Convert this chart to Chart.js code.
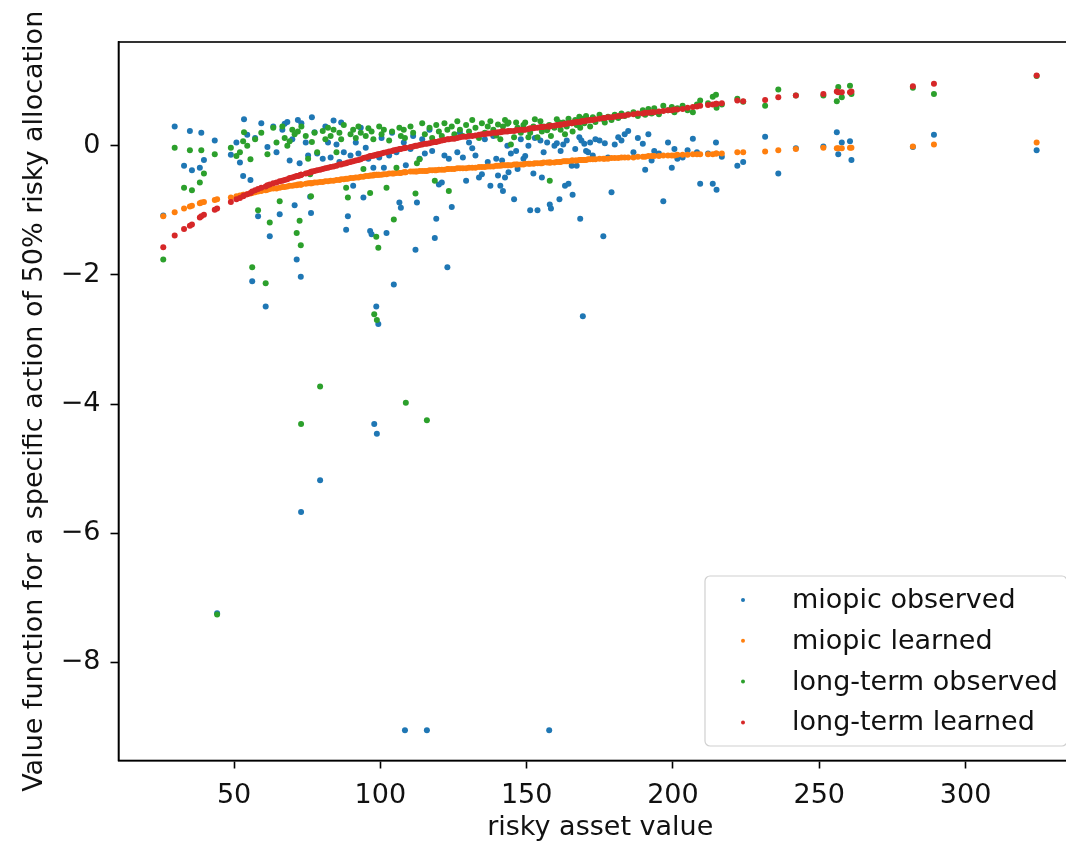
<!DOCTYPE html>
<html><head><meta charset="utf-8">
<script src="https://cdn.jsdelivr.net/npm/chart.js@4.4.1/dist/chart.umd.min.js"></script>
<style>
html,body{margin:0;padding:0;background:#fff;overflow:hidden;}
#wrap{width:1066px;height:844px;overflow:hidden;position:relative;background:#fff;}
canvas{display:block;}
</style></head><body>
<div id="wrap"><canvas id="c" width="1088" height="844"></canvas></div>
<script>
// ---- data ----
const assetValue = [
  25.8, 29.7, 32.9, 34.9, 35.6, 38.3, 38.8, 39.7, 43.4, 44.2, 48.9, 50.8,
  52.0, 53.1, 53.4, 54.5, 55.6, 56.2, 57.2, 58.2, 59.3, 60.8,
  61.4, 62.2, 63.4, 64.5, 65.6, 66.5, 67.3, 68.2, 69.0, 69.9,
  70.7, 71.4, 71.8, 72.4, 72.8, 73.0, 72.9, 74.5, 75.3, 76.0,
  76.3, 76.6, 77.5, 78.4, 79.4, 80.3, 81.2, 82.1, 83.0, 84.0,
  85.0, 86.0, 86.6, 87.5, 88.3, 88.9, 89.8, 90.7, 91.6, 92.5,
  93.3, 94.2, 95.0, 95.9, 96.5, 97.0, 97.6, 97.9, 98.6, 98.8,
  99.3, 99.6, 100.4, 101.2, 102.1, 103.0, 104.0, 104.6, 105.5, 106.5,
  107.0, 108.0, 108.7, 108.4, 110.3, 111.2, 112.0, 112.5, 113.4, 114.3,
  115.2, 115.9, 116.8, 117.7, 118.6, 119.1, 120.0, 121.0, 121.9, 122.9,
  123.4, 124.4, 125.3, 126.3, 127.2, 128.2, 129.3, 130.3, 131.4, 132.5,
  133.7, 134.7, 135.7, 136.7, 137.6, 138.6, 139.6, 140.2, 141.0, 141.6,
  141.9, 142.6, 143.4, 143.8, 144.6, 145.7, 146.4, 146.9, 148.0, 148.9,
  149.5, 150.6, 151.2, 152.3, 152.8, 153.7, 154.7, 155.2, 155.8, 157.0,
  157.7, 157.9, 158.3, 159.5, 160.3, 161.2, 161.6, 162.5, 163.1, 163.7,
  164.3, 165.4, 165.7, 166.6, 167.1, 168.0, 168.3, 168.7, 169.2, 169.7,
  170.3, 171.0, 171.7, 172.6, 173.5, 174.9, 176.2, 176.7, 177.8, 179.0,
  180.1, 181.3, 182.4, 183.5, 184.7,
  186.5, 188.0, 189.7, 190.5, 191.6, 192.7, 193.6, 195.2, 196.7, 198.3,
  199.6, 200.5, 201.5, 203.3, 205.0, 206.8, 208.2, 209.3, 212.0, 213.6,
  214.7, 214.9, 216.7, 222.0, 224.0, 231.5, 236.0, 242.0, 251.4, 256.0,
  256.5, 257.7, 260.5, 261.0, 282.0, 289.2, 324.3
];

const miopicObserved = [
  -1.08, 0.30, -0.31, 0.23, -0.38, -0.34, 0.20, -0.22, 0.08, -7.24, -0.14, 0.05,
  -0.26, -0.47, 0.41, 0.17, -0.53, -2.10, 0.12, -1.09, 0.35, -2.49,
  -0.02, -1.40, 0.30, -0.10, -1.06, 0.25, 0.34, 0.37, -0.23, 0.10,
  -0.92, -1.76, 0.40, -0.27, -2.03, 0.35, -5.67, 0.05, -0.15, -0.79,
  -1.04, 0.44, 0.21, -0.12, -5.18, -0.20, 0.30, 0.05, -0.18, 0.39,
  0.02, -0.25, 0.36, -0.10, -1.30, -1.09, -0.15, -0.62, 0.05, -0.12,
  0.28, -0.80, -0.03, -0.20, -1.32, -1.37, -0.34, -4.31, -2.49, -4.46,
  -2.76, -0.18, 0.12, -0.34, -1.35, -0.15, 0.20, -2.15, -0.10, -0.88,
  -0.96, 0.05, -0.30, -9.05, -0.05, 0.15, -1.61, -0.88, -0.20, 0.10,
  -0.12, -9.05, 0.25, -0.08, -1.43, -1.13, -0.60, -0.57, -0.15, -1.88,
  -0.20, -0.95, 0.12, -0.10, 0.20, -0.18, -0.54, 0.05, -0.04, -0.15,
  -0.49, -0.44, 0.10, -0.25, -0.62, 0.15, -0.20, -0.46, -0.62, -0.23,
  -0.70, -0.49, 0.00, -0.41, -0.12, -0.83, -0.08, -0.36, 0.10, -0.20,
  -0.16, 0.00, -1.00, -0.43, 0.12, -1.00, 0.08, -0.49, -0.10, 0.05,
  -9.05, -0.91, -0.97, 0.00, 0.04, -0.83, -0.08, 0.02, -0.62, 0.08,
  -0.59, -0.31, -0.76, -0.05, -0.31, 0.13, -1.13, 0.08, -2.64, 0.03,
  -0.08, -0.10, 0.05, -0.15, 0.10, 0.08, -1.40, 0.04, -0.18, -0.72,
  0.02, 0.13, 0.08, 0.18, 0.23,
  -0.10, 0.12, 0.03, -0.37, 0.18, -0.23, -0.08, -0.12, -0.86, 0.05,
  -0.34, -0.05, -0.20, -0.18, -0.07, 0.11, -0.10, -0.59, -0.12, -0.59,
  0.05, -0.68, -0.17, -0.31, -0.25, 0.14, -0.43, -0.04, -0.01, 0.21,
  -0.13, 0.05, 0.07, -0.22, -0.02, 0.17, -0.07
];

const miopicLearned = [
  -1.09, -1.03, -0.97, -0.94, -0.93, -0.89, -0.88, -0.87, -0.84, -0.83, -0.80, -0.78,
  -0.77, -0.76, -0.76, -0.75, -0.74, -0.73, -0.72, -0.71, -0.70, -0.69,
  -0.68, -0.67, -0.66, -0.66, -0.65, -0.64, -0.64, -0.63, -0.62, -0.62,
  -0.61, -0.61, -0.60, -0.60, -0.60, -0.60, -0.60, -0.59, -0.58, -0.58,
  -0.58, -0.58, -0.57, -0.57, -0.56, -0.56, -0.55, -0.55, -0.54, -0.54,
  -0.53, -0.53, -0.52, -0.52, -0.51, -0.51, -0.50, -0.50, -0.49, -0.49,
  -0.48, -0.48, -0.47, -0.47, -0.46, -0.46, -0.46, -0.45, -0.45, -0.45,
  -0.45, -0.45, -0.45, -0.44, -0.44, -0.43, -0.43, -0.43, -0.42, -0.42,
  -0.42, -0.41, -0.41, -0.41, -0.40, -0.40, -0.40, -0.40, -0.39, -0.39,
  -0.39, -0.39, -0.38, -0.38, -0.38, -0.38, -0.37, -0.37, -0.37, -0.36,
  -0.36, -0.36, -0.36, -0.35, -0.35, -0.35, -0.35, -0.34, -0.34, -0.34,
  -0.33, -0.33, -0.33, -0.32, -0.32, -0.32, -0.31, -0.31, -0.31, -0.30,
  -0.30, -0.30, -0.30, -0.30, -0.30, -0.29, -0.29, -0.29, -0.29, -0.29,
  -0.28, -0.28, -0.28, -0.28, -0.27, -0.27, -0.27, -0.27, -0.26, -0.26,
  -0.26, -0.26, -0.26, -0.26, -0.25, -0.25, -0.25, -0.24, -0.24, -0.24,
  -0.24, -0.23, -0.23, -0.23, -0.23, -0.22, -0.22, -0.22, -0.22, -0.22,
  -0.22, -0.21, -0.21, -0.21, -0.21, -0.20, -0.20, -0.20, -0.20, -0.19,
  -0.19, -0.19, -0.18, -0.18, -0.18,
  -0.18, -0.17, -0.17, -0.17, -0.16, -0.16, -0.16, -0.16, -0.15, -0.15,
  -0.15, -0.15, -0.14, -0.14, -0.14, -0.13, -0.13, -0.13, -0.13, -0.13,
  -0.12, -0.12, -0.12, -0.10, -0.10, -0.09, -0.07, -0.05, -0.03, -0.04,
  -0.04, -0.04, -0.03, -0.03, -0.01, 0.02, 0.05
];

const longTermObserved = [
  -1.76, -0.03, -0.65, -0.07, -0.69, -0.57, -0.07, -0.43, -0.13, -7.26, -0.03, -0.16,
  -0.10, 0.07, 0.21, 0.00, -0.21, -1.88, 0.10, -1.00, 0.20, -2.13,
  -0.13, -1.19, 0.28, 0.05, -0.86, 0.30, 0.12, 0.00, 0.07, 0.25,
  0.18, -1.35, 0.22, -1.16, -1.54, 0.30, -4.31, 0.15, -0.20, -0.44,
  -0.78, 0.06, 0.20, -0.10, -3.73, 0.23, 0.10, 0.28, 0.15, 0.25,
  -0.10, 0.20, 0.10, 0.32, -0.65, -0.80, 0.18, 0.25, 0.12, 0.30,
  0.20, -0.36, 0.15, 0.27, -0.73, 0.22, 0.10, -2.61, -1.41, -2.70,
  -1.58, 0.30, 0.18, 0.25, -0.65, 0.08, 0.22, -1.14, -0.34, 0.28,
  0.15, 0.25, -3.98, 0.12, 0.30, 0.20, -0.74, -0.27, -0.21, 0.35,
  0.18, -4.25, 0.28, 0.12, -0.54, 0.32, 0.22, 0.15, 0.35, 0.25,
  -0.70, 0.30, 0.18, 0.38, 0.25, 0.15, 0.32, 0.22, 0.40, 0.28,
  0.12, 0.35, 0.20, 0.30, 0.38, 0.25, 0.16, 0.33, 0.10, 0.22,
  0.30, 0.40, 0.34, 0.36, 0.02, 0.13, 0.36, 0.28, 0.20, 0.32,
  0.36, 0.13, 0.20, 0.30, 0.41, 0.13, 0.38, 0.22, 0.30, 0.24,
  0.32, -0.54, 0.15, 0.28, 0.41, 0.36, 0.25, 0.36, 0.18, 0.30,
  0.42, 0.35, 0.22, 0.40, 0.32, 0.45, 0.28, 0.38, 0.42, 0.35,
  0.46, 0.40, 0.30, 0.44, 0.37, 0.48, 0.41, 0.36, 0.45, 0.40,
  0.48, 0.43, 0.50, 0.46, 0.49,
  0.52, 0.46, 0.55, 0.48, 0.57, 0.50, 0.58, 0.49, 0.62, 0.55,
  0.60, 0.52, 0.58, 0.62, 0.55, 0.52, 0.64, 0.70, 0.66, 0.76,
  0.79, 0.59, 0.64, 0.73, 0.68, 0.62, 0.87, 0.78, 0.78, 0.69,
  0.91, 0.75, 0.93, 0.80, 0.90, 0.80, 1.08
];

const longTermLearned = [
  -1.57, -1.39, -1.29, -1.24, -1.22, -1.11, -1.09, -1.07, -0.99, -0.97, -0.87, -0.83,
  -0.81, -0.78, -0.77, -0.75, -0.73, -0.71, -0.69, -0.67, -0.65, -0.63,
  -0.61, -0.60, -0.58, -0.57, -0.55, -0.54, -0.53, -0.52, -0.50, -0.49,
  -0.48, -0.47, -0.47, -0.46, -0.45, -0.45, -0.45, -0.43, -0.42, -0.41,
  -0.41, -0.40, -0.39, -0.38, -0.37, -0.36, -0.35, -0.34, -0.33, -0.32,
  -0.31, -0.29, -0.29, -0.28, -0.27, -0.26, -0.25, -0.24, -0.23, -0.22,
  -0.21, -0.19, -0.18, -0.17, -0.16, -0.16, -0.15, -0.15, -0.14, -0.14,
  -0.13, -0.13, -0.12, -0.11, -0.10, -0.09, -0.08, -0.07, -0.06, -0.05,
  -0.05, -0.04, -0.03, -0.03, -0.02, -0.01, 0.00, 0.00, 0.01, 0.02,
  0.03, 0.03, 0.04, 0.05, 0.06, 0.06, 0.07, 0.08, 0.09, 0.10,
  0.10, 0.11, 0.11, 0.12, 0.13, 0.14, 0.14, 0.15, 0.15, 0.16,
  0.17, 0.18, 0.18, 0.19, 0.19, 0.20, 0.20, 0.21, 0.21, 0.22,
  0.22, 0.22, 0.22, 0.23, 0.23, 0.23, 0.24, 0.24, 0.25, 0.25,
  0.25, 0.26, 0.27, 0.27, 0.28, 0.28, 0.29, 0.29, 0.29, 0.30,
  0.30, 0.30, 0.31, 0.31, 0.32, 0.32, 0.33, 0.33, 0.34, 0.34,
  0.35, 0.35, 0.36, 0.36, 0.37, 0.37, 0.37, 0.38, 0.38, 0.38,
  0.39, 0.39, 0.40, 0.40, 0.41, 0.42, 0.43, 0.43, 0.44, 0.44,
  0.45, 0.46, 0.46, 0.47, 0.48,
  0.49, 0.50, 0.50, 0.51, 0.51, 0.52, 0.52, 0.53, 0.54, 0.55,
  0.55, 0.56, 0.56, 0.57, 0.59, 0.60, 0.61, 0.62, 0.63, 0.64,
  0.65, 0.65, 0.66, 0.70, 0.69, 0.71, 0.75, 0.78, 0.80, 0.84,
  0.83, 0.83, 0.83, 0.84, 0.92, 0.96, 1.09
];

const seriesNames = ['miopic observed', 'miopic learned', 'long-term observed', 'long-term learned'];
const xTickValues = [50, 100, 150, 200, 250, 300];
const yTickValues = [-8, -6, -4, -2, 0];
const xTitle = 'risky asset value';
const yTitle = 'Value function for a specific action of 50% risky allocation';

// ---- styling ----
const COLORS = ['#1f77b4', '#ff7f0e', '#2ca02c', '#d62728'];
const FONT = "'DejaVu Sans', 'Liberation Sans', sans-serif";
const FONT_SIZE = 27;
const TEXT = '#111';
const seriesValues = [miopicObserved, miopicLearned, longTermObserved, longTermLearned];

const datasets = seriesValues.map((vals, k) => ({
  label: seriesNames[k],
  data: assetValue.map((x, i) => ({ x: x, y: vals[i] })),
  backgroundColor: COLORS[k],
  borderColor: COLORS[k],
  borderWidth: 0,
  pointRadius: 3,
  pointHoverRadius: 3,
  order: 3 - k
}));

const framePlugin = {
  id: 'frame',
  afterDatasetsDraw(chart) {
    const { ctx, chartArea: a } = chart;
    ctx.save();
    ctx.strokeStyle = '#000';
    ctx.lineWidth = 1.6;
    ctx.strokeRect(a.left, a.top, a.right - a.left, a.bottom - a.top);
    ctx.restore();
  }
};

const legendPlugin = {
  id: 'innerLegend',
  afterDraw(chart) {
    const { ctx, chartArea: a } = chart;
    const right = a.right - 15, bottom = a.bottom - 14.5;
    const w = 362, h = 170;
    const left = right - w, top = bottom - h;
    ctx.save();
    ctx.beginPath();
    if (ctx.roundRect) ctx.roundRect(left, top, w, h, 5); else ctx.rect(left, top, w, h);
    ctx.fillStyle = 'rgba(255,255,255,0.85)';
    ctx.fill();
    ctx.strokeStyle = '#d0d0d0';
    ctx.lineWidth = 1.2;
    ctx.stroke();
    ctx.font = FONT_SIZE + 'px ' + FONT;
    ctx.textBaseline = 'middle';
    ctx.textAlign = 'left';
    seriesNames.forEach((name, k) => {
      const y = top + 24 + k * 40.8;
      ctx.beginPath();
      ctx.arc(left + 38, y, 2, 0, Math.PI * 2);
      ctx.fillStyle = COLORS[k];
      ctx.fill();
      ctx.fillStyle = TEXT;
      ctx.fillText(name, left + 87, y + 1);
    });
    ctx.restore();
  }
};

const tickFont = { family: FONT, size: FONT_SIZE };

new Chart(document.getElementById('c'), {
  type: 'scatter',
  data: { datasets },
  options: {
    responsive: false,
    devicePixelRatio: 1,
    animation: false,
    events: [],
    layout: { padding: { top: 42, right: 6, left: 0, bottom: 0 } },
    plugins: { legend: { display: false }, tooltip: { enabled: false } },
    scales: {
      x: {
        type: 'linear',
        min: 10.5,
        max: 339.8,
        afterBuildTicks: (s) => { s.ticks = xTickValues.map(v => ({ value: v })); },
        afterFit: (s) => { s.height = 83.5; },
        grid: { drawOnChartArea: false, drawTicks: true, tickLength: 8, tickColor: '#000', tickWidth: 1.6 },
        border: { display: true, color: '#000', width: 1.6 },
        ticks: { font: tickFont, color: TEXT, padding: 11, maxRotation: 0, autoSkip: false },
        title: { display: true, text: xTitle, font: tickFont, color: TEXT, padding: { top: 0, bottom: 0 } }
      },
      y: {
        type: 'linear',
        min: -9.52,
        max: 1.607,
        afterBuildTicks: (s) => { s.ticks = yTickValues.map(v => ({ value: v })); },
        afterFit: (s) => { s.width = 118.5; },
        grid: { drawOnChartArea: false, drawTicks: true, tickLength: 8, tickColor: '#000', tickWidth: 1.6 },
        border: { display: true, color: '#000', width: 1.6 },
        ticks: {
          font: tickFont, color: TEXT, padding: 10,
          callback: (v) => (v < 0 ? '\u2212' + Math.abs(v) : String(v))
        },
        title: { display: true, text: yTitle, font: tickFont, color: TEXT, padding: { top: 19, bottom: 0 } }
      }
    }
  },
  plugins: [framePlugin, legendPlugin]
});
</script>
</body></html>
